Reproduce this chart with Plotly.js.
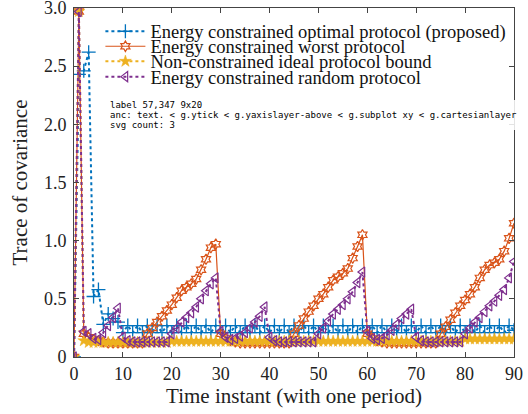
<!DOCTYPE html>
<html>
<head>
<meta charset="utf-8">
<script src="https://cdn.plot.ly/plotly-3.0.1.min.js"></script>
<style>html,body{margin:0;padding:0;background:#fff;}#chart{width:528px;height:414px;}#dbg{position:absolute;left:110px;top:100px;font:9px monospace;color:#000;white-space:pre-wrap;width:410px;background:rgba(255,255,255,0.85);}</style>
</head>
<body>
<div id="chart"></div>
<div id="dbg"></div>
<script>
const timeInstants = [0,1,2,3,4,5,6,7,8,9,10,11,12,13,14,15,16,17,18,19,20,21,22,23,24,25,26,27,28,29,30,31,32,33,34,35,36,37,38,39,40,41,42,43,44,45,46,47,48,49,50,51,52,53,54,55,56,57,58,59,60,61,62,63,64,65,66,67,68,69,70,71,72,73,74,75,76,77,78,79,80,81,82,83,84,85,86,87,88,89,90];
const seriesNames = ["Energy constrained optimal protocol (proposed)","Energy constrained worst protocol","Non-constrained ideal protocol bound","Energy constrained random protocol"];
const optimalTrace = [0,2.43,2.46,2.62,0.52,0.58,0.28,0.37,0.33,0.30,0.21,0.27,0.21,0.27,0.21,0.27,0.21,0.27,0.21,0.27,0.21,0.27,0.21,0.27,0.21,0.27,0.21,0.27,0.21,0.27,0.21,0.27,0.21,0.27,0.21,0.27,0.21,0.27,0.21,0.27,0.21,0.27,0.21,0.27,0.21,0.27,0.21,0.27,0.21,0.27,0.21,0.27,0.21,0.27,0.21,0.27,0.21,0.27,0.21,0.27,0.21,0.27,0.21,0.27,0.21,0.27,0.21,0.27,0.21,0.27,0.21,0.27,0.21,0.27,0.21,0.27,0.21,0.27,0.21,0.27,0.21,0.27,0.21,0.27,0.21,0.27,0.21,0.27,0.21,0.27,0.23];
const worstTrace = [0,2.97,0.20,0.17,0.15,0.14,0.13,0.12,0.12,0.12,0.12,0.12,0.12,0.12,0.12,0.20,0.25,0.30,0.35,0.40,0.45,0.51,0.57,0.60,0.63,0.67,0.75,0.84,0.94,0.97,0.20,0.16,0.14,0.13,0.12,0.12,0.12,0.12,0.12,0.12,0.12,0.12,0.12,0.12,0.12,0.20,0.27,0.33,0.39,0.44,0.50,0.54,0.60,0.66,0.69,0.72,0.76,0.85,0.95,1.05,0.20,0.16,0.14,0.13,0.12,0.12,0.12,0.12,0.12,0.12,0.12,0.12,0.12,0.12,0.12,0.20,0.26,0.32,0.38,0.44,0.49,0.54,0.60,0.68,0.75,0.79,0.81,0.84,0.91,1.02,1.15];
const idealTrace = [0,2.97,0.14,0.125,0.125,0.125,0.125,0.125,0.125,0.125,0.125,0.125,0.125,0.125,0.125,0.125,0.125,0.125,0.125,0.125,0.135,0.135,0.135,0.135,0.135,0.135,0.135,0.135,0.135,0.135,0.135,0.135,0.135,0.135,0.135,0.135,0.135,0.135,0.135,0.135,0.135,0.135,0.135,0.135,0.135,0.135,0.135,0.135,0.135,0.135,0.135,0.135,0.135,0.135,0.135,0.135,0.135,0.135,0.135,0.135,0.135,0.135,0.135,0.135,0.135,0.135,0.135,0.135,0.135,0.135,0.135,0.135,0.135,0.135,0.135,0.135,0.135,0.135,0.135,0.135,0.155,0.155,0.155,0.155,0.155,0.155,0.155,0.155,0.155,0.155,0.155];
const randomTrace = [0,2.97,0.22,0.20,0.16,0.15,0.21,0.27,0.34,0.42,0.17,0.14,0.13,0.13,0.13,0.13,0.13,0.13,0.13,0.13,0.20,0.25,0.30,0.34,0.38,0.43,0.50,0.57,0.63,0.68,0.22,0.17,0.15,0.16,0.18,0.21,0.25,0.30,0.35,0.43,0.17,0.14,0.13,0.13,0.13,0.13,0.13,0.13,0.13,0.13,0.20,0.25,0.31,0.37,0.41,0.45,0.50,0.56,0.64,0.73,0.22,0.16,0.15,0.16,0.19,0.23,0.28,0.33,0.37,0.41,0.17,0.14,0.13,0.13,0.13,0.13,0.13,0.13,0.13,0.13,0.20,0.25,0.30,0.34,0.39,0.44,0.48,0.53,0.58,0.68,0.82];
const xTickVals = [0,10,20,30,40,50,60,70,80,90];
const yTickVals = [0,0.5,1.0,1.5,2.0,2.5,3.0];
const yTickText = ["0","0.5","1.0","1.5","2.0","2.5","3.0"];
const FONT = '"Liberation Serif", "Times New Roman", serif';
const C_BLUE = "#0072BD", C_RED = "#D95319", C_ORANGE = "#EDB120", C_PURPLE = "#7E2F8E";
const traces = [
  {x: timeInstants, y: optimalTrace, name: seriesNames[0], mode: "lines+markers", legend: "legend", line: {color: C_BLUE, width: 2, dash: "dot"}, marker: {symbol: "cross-thin-open", size: 10, color: C_BLUE, line: {color: C_BLUE, width: 1.3}}},
  {x: timeInstants, y: worstTrace, name: seriesNames[1], mode: "lines+markers", legend: "legend2", line: {color: C_RED, width: 1.2}, marker: {symbol: "hexagram-open", size: 8, color: C_RED, line: {color: C_RED, width: 1.2}}},
  {x: timeInstants, y: idealTrace, name: seriesNames[2], mode: "lines+markers", legend: "legend3", line: {color: C_ORANGE, width: 2, dash: "dot"}, marker: {symbol: "star", size: 9, color: C_ORANGE, line: {color: C_ORANGE, width: 0.5}}},
  {x: timeInstants, y: randomTrace, name: seriesNames[3], mode: "lines+markers", legend: "legend4", line: {color: C_PURPLE, width: 2, dash: "dot"}, marker: {symbol: "triangle-left-open", size: 9, color: C_PURPLE, line: {color: C_PURPLE, width: 1.2}}}
];
function leg(y) { return {x: 0.06, xanchor: "left", y: y, yanchor: "middle", bgcolor: "rgba(0,0,0,0)", borderwidth: 0, itemwidth: 40, font: {family: FONT, size: 18.5, color: "#111"}}; }
const axisCommon = {showline: true, mirror: "ticks", linecolor: "#444", linewidth: 1, ticks: "inside", ticklen: 5, tickcolor: "#444", tickwidth: 1, showgrid: false, zeroline: false, ticklabeloverflow: "allow", tickfont: {family: FONT, size: 18, color: "#222"}};
const layout = {
  width: 528, height: 414, margin: {l: 74, r: 14, t: 8, b: 57}, paper_bgcolor: "#fff", plot_bgcolor: "#fff", showlegend: true,
  legend: leg(0.932), legend2: leg(0.889), legend3: leg(0.846), legend4: leg(0.802),
  xaxis: Object.assign({}, axisCommon, {range: [0, 90], tickvals: xTickVals, title: {text: "Time instant (with one period)", font: {family: FONT, size: 21, color: "#222"}, standoff: 5}}),
  yaxis: Object.assign({}, axisCommon, {range: [0, 3], tickvals: yTickVals, ticktext: yTickText, ticklabelstandoff: 3, title: {text: "Trace of covariance", font: {family: FONT, size: 21, color: "#222"}, standoff: 10}})
};
Plotly.newPlot("chart", traces, layout, {displayModeBar: false, staticPlot: true}).then(function(){
  var out = [];
  var label = null;
  document.querySelectorAll('.ytick text').forEach(function(t){ if(t.textContent==='0') label=t; });
  var lb = label.getBoundingClientRect();
  out.push('label '+Math.round(lb.x)+','+Math.round(lb.y)+' '+Math.round(lb.width)+'x'+Math.round(lb.height));
  var after = false;
  var all = document.querySelectorAll('#chart svg *');
  all.forEach(function(e){
    if(e===label){after=true;return;}
    if(!after) return;
    if(e.tagName==='g'||e.tagName==='defs'||e.tagName==='clipPath'||e.tagName==='tspan') return;
    var b=e.getBoundingClientRect();
    if(b.x < lb.x+lb.width && b.x+b.width > lb.x && b.y < lb.y+lb.height && b.y+b.height > lb.y){
      var cs=getComputedStyle(e);
      var p=e.parentNode, chain=[];
      for(var k=0;k<3&&p;k++){chain.push(p.getAttribute&&p.getAttribute('class'));p=p.parentNode;}
      out.push(e.tagName+' cls='+e.getAttribute('class')+' fill='+cs.fill+' op='+cs.opacity+' '+Math.round(b.x)+','+Math.round(b.y)+' '+Math.round(b.width)+'x'+Math.round(b.height)+' par='+chain.join('<'));
    }
  });
  // also check text's own clip-path and ancestors
  var p=label, anc=[];
  while(p && p.tagName!=='svg'){ anc.push(p.tagName+'.'+(p.getAttribute('class')||'')+(p.getAttribute('clip-path')?'[clip]':'')+(p.style&&p.style.display?'[d:'+p.style.display+']':'')); p=p.parentNode; }
  out.push('anc: '+anc.join(' < '));
  out.push('svg count: '+document.querySelectorAll('#chart svg').length);
  document.getElementById('dbg').textContent = out.join('\n');
});
</script>
</body>
</html>
